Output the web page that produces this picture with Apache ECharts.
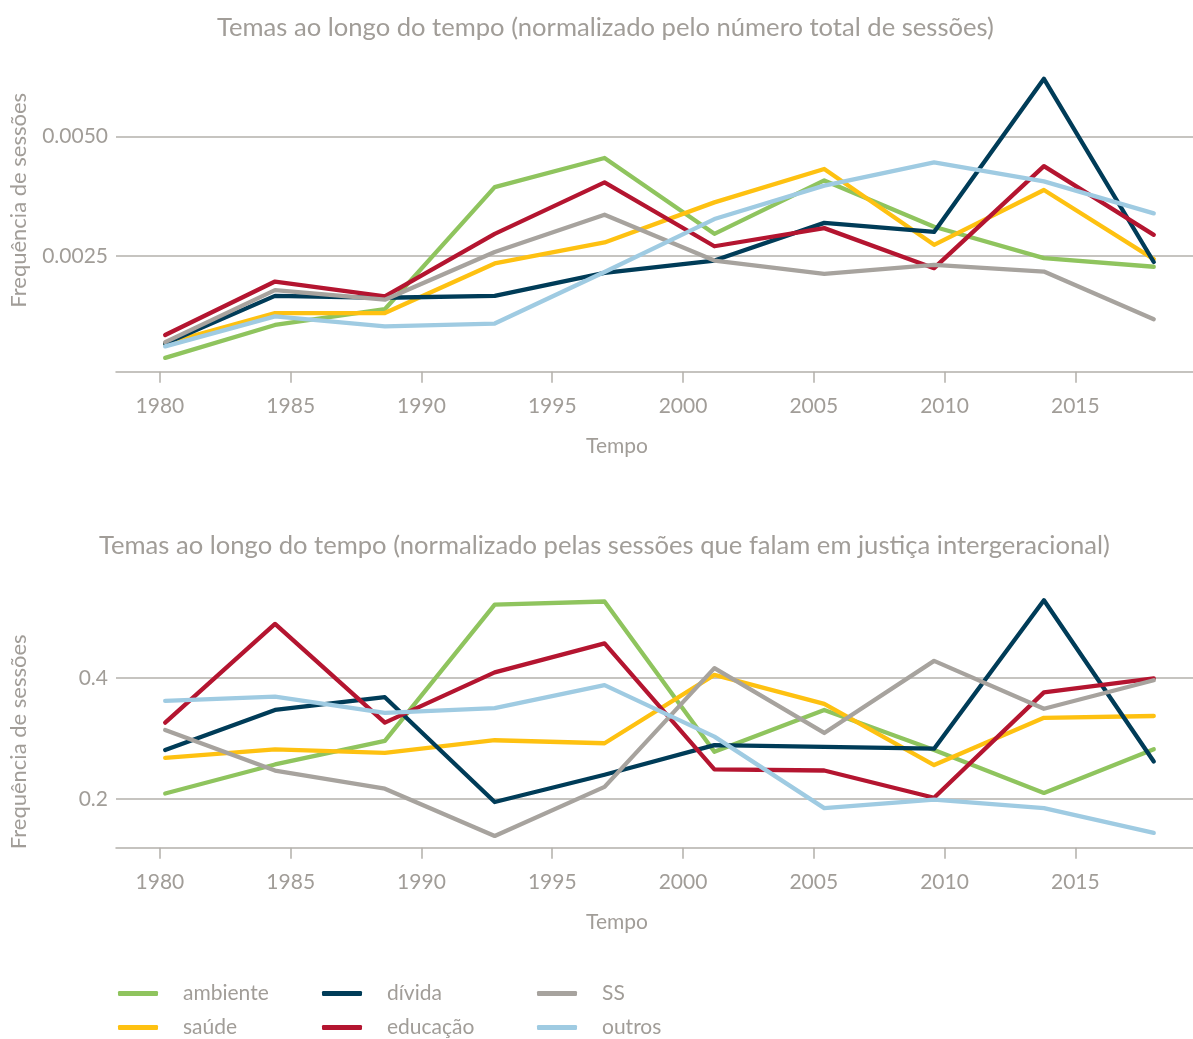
<!DOCTYPE html>
<html>
<head>
<meta charset="utf-8">
<script src="https://cdn.jsdelivr.net/npm/echarts@6/dist/echarts.min.js"></script>
<style>
html,body{margin:0;padding:0;background:#fff;}
#chart{width:1193px;height:1039px;}
</style>
</head>
<body>
<div id="chart"></div>
<script>
// ---- data ----
const years = [1980.2, 1984.4, 1988.6, 1992.8, 1997.0, 2001.2, 2005.4, 2009.6, 2013.8, 2018.0];
const xTickLabels = [1980, 1985, 1990, 1995, 2000, 2005, 2010, 2015];
const seriesNames = ['ambiente', 'saúde', 'dívida', 'educação', 'SS', 'outros'];

// normalized by total sessions
const topAmbiente = [0.00036, 0.00105, 0.00138, 0.00394, 0.00455, 0.00296, 0.00408, 0.00311, 0.00245, 0.00227];
const topSaude    = [0.00066, 0.00130, 0.00130, 0.00234, 0.00278, 0.00362, 0.00432, 0.00273, 0.00388, 0.00243];
const topDivida   = [0.00066, 0.00166, 0.00162, 0.00166, 0.00214, 0.00240, 0.00319, 0.00300, 0.00621, 0.00237];
const topEducacao = [0.00084, 0.00196, 0.00165, 0.00296, 0.00404, 0.00270, 0.00308, 0.00224, 0.00438, 0.00294];
const topSS       = [0.00069, 0.00178, 0.00158, 0.00258, 0.00336, 0.00240, 0.00212, 0.00231, 0.00217, 0.00117];
const topOutros   = [0.00060, 0.00123, 0.00102, 0.00108, 0.00216, 0.00327, 0.00397, 0.00446, 0.00406, 0.00339];
const topYTicks = [0.0025, 0.0050];

// normalized by sessions mentioning intergenerational justice
const botAmbiente = [0.209, 0.257, 0.296, 0.521, 0.526, 0.278, 0.347, 0.281, 0.210, 0.282];
const botSaude    = [0.268, 0.282, 0.276, 0.297, 0.292, 0.405, 0.357, 0.256, 0.334, 0.337];
const botDivida   = [0.281, 0.347, 0.368, 0.195, 0.240, 0.289, 0.286, 0.283, 0.528, 0.262];
const botEducacao = [0.326, 0.489, 0.326, 0.409, 0.457, 0.249, 0.247, 0.202, 0.376, 0.399];
const botSS       = [0.314, 0.247, 0.217, 0.139, 0.220, 0.416, 0.309, 0.428, 0.349, 0.396];
const botOutros   = [0.362, 0.369, 0.342, 0.350, 0.388, 0.303, 0.185, 0.199, 0.185, 0.144];
const botYTicks = [0.2, 0.4];

const titleTop = 'Temas ao longo do tempo (normalizado pelo número total de sessões)';
const titleBot = 'Temas ao longo do tempo (normalizado pelas sessões que falam em justiça intergeracional)';
const xName = 'Tempo';
const yName = 'Frequência de sessões';

// ---- styling ----
const colors = ['#8fc45e', '#fec111', '#003c58', '#b41530', '#a7a39e', '#9fcbe2'];
const txt = '#a19d98';
const gridCol = '#b3b0ab';
const FONT = 'Lato';

const topData = [topAmbiente, topSaude, topDivida, topEducacao, topSS, topOutros];
const botData = [botAmbiente, botSaude, botDivida, botEducacao, botSS, botOutros];

function pairs(vals) { return years.map((y, i) => [y, vals[i]]); }

function xAxis(gridIndex) {
  return {
    type: 'value', gridIndex: gridIndex,
    min: 1978.32, max: 2019.5,
    name: xName, nameLocation: 'middle', nameGap: 64,
    nameTextStyle: { color: txt, fontSize: 21, fontFamily: FONT, padding: [0, 75, 0, 0] },
    axisLine: { show: true, lineStyle: { color: gridCol, width: 1.5 } },
    axisTick: { show: true, length: 11, lineStyle: { color: gridCol, width: 1.5 }, customValues: xTickLabels },
    axisLabel: { color: txt, fontSize: 21, fontFamily: FONT, margin: 24, customValues: xTickLabels, formatter: v => String(v) },
    splitLine: { show: false }
  };
}
function yAxis(gridIndex, min, max, ticks, dec, namePad) {
  return {
    type: 'value', gridIndex: gridIndex,
    min: min, max: max,
    name: yName, nameLocation: 'middle', nameGap: 86,
    nameTextStyle: { color: txt, fontSize: 22, fontFamily: FONT, padding: namePad },
    axisLine: { show: false },
    axisTick: { show: false, customValues: ticks },
    axisLabel: { color: txt, fontSize: 21, fontFamily: FONT, margin: 8, customValues: ticks, formatter: v => v.toFixed(dec) },
    splitLine: { show: true, lineStyle: { color: gridCol, width: 1.5 } }
  };
}

const series = [];
seriesNames.forEach((n, i) => {
  [topData, botData].forEach((d, g) => {
    series.push({
      name: n, type: 'line', xAxisIndex: g, yAxisIndex: g,
      data: pairs(d[i]), showSymbol: false, symbol: 'none', silent: true,
      lineStyle: { color: colors[i], width: 4.3, cap: 'round', join: 'round' },
      itemStyle: { color: colors[i] },
      z: 2 + i, animation: false
    });
  });
});

const legendPos = [
  { name: 'ambiente', left: 113, top: 978 },
  { name: 'saúde', left: 113, top: 1012 },
  { name: 'dívida', left: 317, top: 978 },
  { name: 'educação', left: 317, top: 1012 },
  { name: 'SS', left: 532, top: 978 },
  { name: 'outros', left: 532, top: 1012 }
];

const option = {
  backgroundColor: '#fff',
  animation: false,
  title: [
    { text: titleTop, left: 217, top: 15, padding: 0,
      textStyle: { color: txt, fontSize: 25.6, fontWeight: 'normal', fontFamily: FONT } },
    { text: titleBot, left: 99, top: 533, padding: 0,
      textStyle: { color: txt, fontSize: 25.6, fontWeight: 'normal', fontFamily: FONT } }
  ],
  grid: [
    { left: 116, right: 0, top: 65, height: 306.7, containLabel: false },
    { left: 116, right: 0, top: 590, height: 257.7, containLabel: false }
  ],
  xAxis: [xAxis(0), xAxis(1)],
  yAxis: [
    yAxis(0, 0.00007, 0.0065, topYTicks, 4, [0, 0, 0, 36]),
    yAxis(1, 0.1196, 0.545, botYTicks, 1, [0, 46, 0, 0])
  ],
  legend: legendPos.map(l => ({
    data: [l.name], left: l.left, top: l.top, orient: 'horizontal',
    icon: 'roundRect', itemWidth: 40, itemHeight: 5, selectedMode: false,
    textStyle: { color: txt, fontSize: 21, fontFamily: FONT, padding: [0, 0, 0, 20] }
  })),
  series: series
};

const chart = echarts.init(document.getElementById('chart'), null, { renderer: 'canvas' });
chart.setOption(option);
</script>
</body>
</html>
